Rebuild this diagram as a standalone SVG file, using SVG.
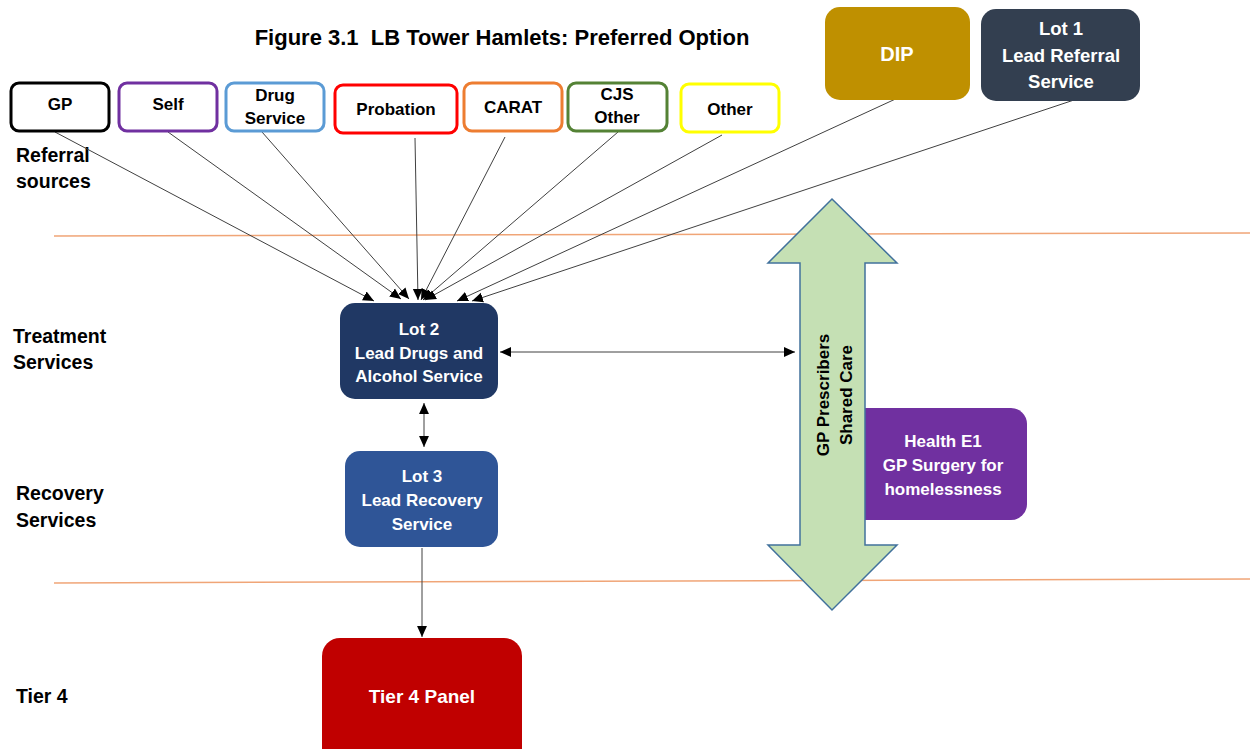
<svg xmlns="http://www.w3.org/2000/svg" width="1250" height="749" viewBox="0 0 1250 749">
<style>
text{font-family:"Liberation Sans",Arial,sans-serif;font-weight:bold}
.lbl{font-size:19.5px;fill:#000}
.src{fill:#fff;stroke-width:3}
.st{font-size:17px;fill:#000;text-anchor:middle}
.wt{font-size:17px;fill:#fff;text-anchor:middle}
.con{stroke:#404040;stroke-width:1;fill:none}
.sep{stroke:#F0A577;stroke-width:1.5;fill:none}
</style>
<defs>
<marker id="ah" viewBox="0 0 10 10" refX="10" refY="5" markerWidth="11" markerHeight="11" markerUnits="userSpaceOnUse" orient="auto-start-reverse">
<path d="M0,0.5 L10,5 L0,9.5 z" fill="#000"/>
</marker>
</defs>
<rect width="1250" height="749" fill="#fff"/>
<text x="502" y="45" font-size="22" text-anchor="middle" xml:space="preserve" style="white-space:pre">Figure 3.1  LB Tower Hamlets: Preferred Option</text>

<g id="separators">
<line class="sep" x1="54" y1="236" x2="1250" y2="233"/>
<line class="sep" x1="54" y1="583" x2="1250" y2="579"/>
</g>

<g id="labels">
<text class="lbl" x="16" y="162">Referral</text>
<text class="lbl" x="16" y="188">sources</text>
<text class="lbl" x="13" y="343">Treatment</text>
<text class="lbl" x="13" y="369">Services</text>
<text class="lbl" x="16" y="500">Recovery</text>
<text class="lbl" x="16" y="527">Services</text>
<text class="lbl" x="16" y="703">Tier 4</text>
</g>

<g id="health-e1">
<rect x="850" y="408" width="177" height="112" rx="16" fill="#7030A0"/>
<text class="wt" x="943" y="447">Health E1</text>
<text class="wt" x="943" y="471">GP Surgery for</text>
<text class="wt" x="943" y="495">homelessness</text>
</g>

<g id="gp-shared-care">
<polygon points="832,199 897,263 865,263 865,545 897,545 832,610 768,545 800,545 800,263 768,263" fill="#C5E0B4" stroke="#41719C" stroke-width="1.5"/>
<text class="st" transform="translate(829,395) rotate(-90)">GP Prescribers</text>
<text class="st" transform="translate(852,395) rotate(-90)">Shared Care</text>
</g>

<g id="connectors">
<line class="con" x1="55" y1="132" x2="374" y2="301" marker-end="url(#ah)"/>
<line class="con" x1="168" y1="132" x2="401" y2="299" marker-end="url(#ah)"/>
<line class="con" x1="262" y1="132" x2="409" y2="299" marker-end="url(#ah)"/>
<line class="con" x1="415" y1="138" x2="418" y2="300" marker-end="url(#ah)"/>
<line class="con" x1="505" y1="137" x2="421" y2="300" marker-end="url(#ah)"/>
<line class="con" x1="618" y1="132" x2="423" y2="300" marker-end="url(#ah)"/>
<line class="con" x1="722" y1="135" x2="425" y2="300" marker-end="url(#ah)"/>
<line class="con" x1="902" y1="96" x2="457" y2="301" marker-end="url(#ah)"/>
<line class="con" x1="1077" y1="99" x2="472" y2="301" marker-end="url(#ah)"/>
<line class="con" x1="500" y1="352" x2="795" y2="352" marker-start="url(#ah)" marker-end="url(#ah)"/>
<line class="con" x1="424" y1="403" x2="424" y2="447" marker-start="url(#ah)" marker-end="url(#ah)"/>
<line class="con" x1="422" y1="548" x2="422" y2="637" marker-end="url(#ah)"/>
</g>

<g id="gp">
<rect class="src" x="11" y="83" width="98" height="48" rx="8" stroke="#000"/>
<text class="st" x="60" y="110">GP</text>
</g>
<g id="self">
<rect class="src" x="119" y="83" width="98" height="48" rx="8" stroke="#7030A0"/>
<text class="st" x="168" y="110">Self</text>
</g>
<g id="drug-service">
<rect class="src" x="226" y="83" width="98" height="48" rx="8" stroke="#5B9BD5"/>
<text class="st" x="275" y="101">Drug</text>
<text class="st" x="275" y="124">Service</text>
</g>
<g id="probation">
<rect class="src" x="335" y="85" width="122" height="48" rx="8" stroke="#FF0000"/>
<text class="st" x="396" y="115">Probation</text>
</g>
<g id="carat">
<rect class="src" x="464" y="83" width="98" height="48" rx="8" stroke="#ED7D31"/>
<text class="st" x="513" y="113">CARAT</text>
</g>
<g id="cjs-other">
<rect class="src" x="568" y="83" width="99" height="48" rx="8" stroke="#548235"/>
<text class="st" x="617" y="100">CJS</text>
<text class="st" x="617" y="123">Other</text>
</g>
<g id="other">
<rect class="src" x="681" y="84" width="98" height="48" rx="8" stroke="#FFFF00"/>
<text class="st" x="730" y="115">Other</text>
</g>

<g id="dip">
<rect x="825" y="7" width="145" height="93" rx="15" fill="#BF9000"/>
<text class="wt" x="897" y="61" style="font-size:20px">DIP</text>
</g>
<g id="lot1">
<rect x="981" y="9" width="159" height="92" rx="15" fill="#333F50"/>
<text class="wt" x="1061" y="35" style="font-size:18.5px">Lot 1</text>
<text class="wt" x="1061" y="62" style="font-size:18.5px">Lead Referral</text>
<text class="wt" x="1061" y="88" style="font-size:18.5px">Service</text>
</g>
<g id="lot2">
<rect x="340" y="303" width="158" height="96" rx="15" fill="#203864"/>
<text class="wt" x="419" y="335">Lot 2</text>
<text class="wt" x="419" y="359">Lead Drugs and</text>
<text class="wt" x="419" y="382">Alcohol Service</text>
</g>
<g id="lot3">
<rect x="345" y="451" width="153" height="96" rx="15" fill="#2F5597"/>
<text class="wt" x="422" y="482">Lot 3</text>
<text class="wt" x="422" y="506">Lead Recovery</text>
<text class="wt" x="422" y="530">Service</text>
</g>
<g id="tier4">
<rect x="322" y="638" width="200" height="130" rx="18" fill="#C00000"/>
<text class="wt" x="422" y="703" style="font-size:19px">Tier 4 Panel</text>
</g>
</svg>
